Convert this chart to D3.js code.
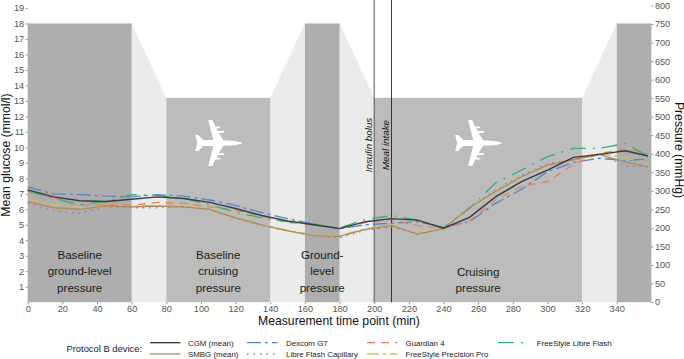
<!DOCTYPE html>
<html><head><meta charset="utf-8">
<script src="https://cdn.jsdelivr.net/npm/d3@7"></script>
<style>html,body{margin:0;padding:0;background:#fff}svg{display:block;font-family:"Liberation Sans",Arial,sans-serif}</style>
</head><body><div id="chart"></div>
<script>
const timePoints=[0,15,30,45,60,75,90,105,120,135,150,165,180,195,210,225,240,255,270,285,300,315,330,345,358];
const cgm      =[7.25,6.8,6.55,6.5,6.65,6.8,6.7,6.45,6.05,5.6,5.25,5.0,4.75,5.2,5.4,5.3,4.78,5.48,6.8,7.78,8.53,9.35,9.55,9.78,9.44];
const smbg     =[6.5,6.1,6.0,6.2,6.15,6.2,6.15,6.0,5.45,5.0,4.6,4.3,4.25,4.7,4.95,4.4,4.75,6.1,7.15,8.1,8.85,9.2,9.55,9.05,8.75];
const dexcom   =[7.45,7.0,6.95,6.85,6.8,6.95,6.85,6.6,6.25,5.78,5.4,5.05,4.75,5.0,5.1,5.2,4.85,5.2,6.38,7.29,8.43,9.03,9.3,9.13,9.27];
const libreCap =[6.4,5.9,5.75,6.15,6.1,6.1,6.15,6.0,5.4,4.95,4.6,4.3,4.15,4.65,4.85,4.4,4.75,6.15,7.25,8.2,8.96,9.2,9.6,8.8,8.75];
const guardian =[7.15,6.75,6.25,6.3,6.25,6.45,6.4,6.15,5.95,5.55,5.15,5.0,4.75,5.15,5.35,4.95,4.75,5.25,6.6,7.5,7.78,8.9,9.6,9.9,9.6];
const precision=[6.65,6.3,6.1,6.15,6.2,6.25,6.2,6.05,5.5,5.0,4.65,4.35,4.3,4.75,5.0,4.45,4.8,6.17,7.2,8.15,8.86,9.22,9.6,9.35,8.85];
const libreFlash=[7.2,6.7,6.3,6.5,6.95,6.9,6.7,6.3,5.8,5.45,5.2,5.05,4.8,5.35,5.6,5.3,4.8,6.07,7.7,8.53,9.4,9.93,9.93,10.25,9.44];

const seriesNames=["CGM (mean)","SMBG (mean)","Dexcom G7","Libre Flash Capillary","Guardian 4","FreeStyle Precision Pro","FreeStyle Libre Flash"];
const seriesValues=[cgm,smbg,dexcom,libreCap,guardian,precision,libreFlash];
const seriesColors=["#3a3a3a","#b08a58","#4f86d6","#9a6fc0","#ee7f4f","#e0bd4a","#2fb573"];
const seriesDash=["","","14 4 3 4","1.5 5","8 6","12 4 3 4","16 7 2 7"];
const drawOrder=[2,3,4,5,6,1,0];

const glucoseTicks=d3.range(1,20);
const xTicks=d3.range(0,341,20);
const pressureTicks=d3.range(0,801,50);
const plateaus=[[0,60,18,"#aeaeae"],[80,140,13.2,"#bcbcbc"],[160,180,18,"#aeaeae"],[200,320,13.2,"#bcbcbc"],[340,360,18,"#aeaeae"]];
const ramps=[[60,80,18,13.2],[140,160,13.2,18],[180,200,18,13.2],[320,340,13.2,18]];
const phaseLabels=[[30,["Baseline","ground-level","pressure"]],[110,["Baseline","cruising","pressure"]],[170,["Ground-","level","pressure"]],[260,["Cruising","pressure"]]];
const planeAt=[110,260];
const events=[[200,"Insulin bolus"],[210,"Meal intake"]];

const W=684,H=359;
const svg=d3.select("#chart").append("svg").attr("width",W).attr("height",H);
const x=d3.scaleLinear().domain([0,360]).range([27.7,651.4]);
const y=d3.scaleLinear().domain([0,19]).range([302.2,8]);
const yP=d3.scaleLinear().domain([0,800]).range([302,5.5]);

svg.append("g").selectAll("path").data(ramps).join("path")
  .attr("d",d=>d3.line()([[x(d[0]),y(0)],[x(d[0]),y(d[2])],[x(d[1]),y(d[3])],[x(d[1]),y(0)]])+"Z")
  .attr("fill","#ebebeb");
svg.append("g").selectAll("rect").data(plateaus).join("rect")
  .attr("x",d=>x(d[0])).attr("width",d=>x(d[1])-x(d[0]))
  .attr("y",d=>y(d[2])).attr("height",d=>y(0)-y(d[2])).attr("fill",d=>d[3]);

const planePath="M24,0C22,-1.4 18,-2.2 9,-2.6L5,-2.8L0.5,-10L6,-10.5L6,-12L-0.5,-12L-2,-14.5L2,-15L2,-16.5L-3,-16.5L-6,-23L-10,-23L-5,-3L-15,-3L-20,-8L-23,-8L-21,0L-23,8L-20,8L-15,3L-5,3L-10,23L-6,23L-3,16.5L2,16.5L2,15L-2,14.5L-0.5,12L6,12L6,10.5L0.5,10L5,2.8L9,2.6C18,2.2 22,1.4 24,0Z";
svg.append("g").selectAll("path").data(planeAt).join("path")
  .attr("d",planePath).attr("fill","#fff")
  .attr("transform",d=>`translate(${x(d)},143)`);

events.forEach((e,i)=>{
  svg.append("line").attr("x1",x(e[0])).attr("x2",x(e[0])).attr("y1",0).attr("y2",y(0))
    .attr("stroke",i?"#222":"#444").attr("stroke-width",.9);
  svg.append("text").attr("transform",`translate(${x(e[0])-2.5},145) rotate(-90)`)
    .attr("text-anchor","middle").attr("font-size",9.8).attr("font-style","italic").attr("fill","#111").text(e[1]);
});

const line=d3.line().x((d,i)=>x(timePoints[i])).y(d=>y(d)).curve(d3.curveLinear);
svg.append("g").selectAll("path").data(drawOrder).join("path")
  .attr("d",k=>line(seriesValues[k])).attr("fill","none")
  .attr("stroke",k=>seriesColors[k]).attr("stroke-width",k=>k===0?1.4:1.3)
  .attr("stroke-dasharray",k=>seriesDash[k]);

const labels=svg.append("g").attr("font-size",11.6).attr("fill","#1a1a1a").attr("text-anchor","middle");
phaseLabels.forEach(p=>{
  const start=p[1].length===3?254.5:271.5;
  p[1].forEach((t,i)=>labels.append("text").attr("x",x(p[0])).attr("y",start+i*16.7+4).text(t));
});

function styleAxis(g){
  g.select(".domain").remove();
  g.selectAll("line").attr("stroke","#444").attr("stroke-width",.6);
  g.selectAll("text").attr("fill","#555").attr("font-size",9.2).attr("font-family","Liberation Sans, Arial, sans-serif");
}
svg.append("g").attr("transform",`translate(${x(0)},0)`)
  .call(d3.axisLeft(y).tickValues(glucoseTicks).tickSize(2).tickPadding(1.5)).call(styleAxis);
svg.append("g").attr("transform",`translate(${x(360)},0)`)
  .call(d3.axisRight(yP).tickValues(pressureTicks).tickSize(2).tickPadding(1.5)).call(styleAxis);
svg.append("g").attr("transform",`translate(0,${y(0)})`)
  .call(d3.axisBottom(x).tickValues(xTicks).tickSize(2).tickPadding(1.5)).call(styleAxis);

svg.append("text").attr("x",339).attr("y",325).attr("text-anchor","middle").attr("font-size",12.2).attr("fill","#111").text("Measurement time point (min)");
svg.append("text").attr("transform","translate(10,155) rotate(-90)").attr("text-anchor","middle").attr("font-size",12.2).attr("fill","#111").text("Mean glucose (mmol/l)");
svg.append("text").attr("transform","translate(674.5,150) rotate(90)").attr("text-anchor","middle").attr("font-size",12.2).attr("fill","#111").text("Pressure (mmHg)");

svg.append("text").attr("x",142).attr("y",351.5).attr("text-anchor","end").attr("font-size",9.4).attr("fill","#222").text("Protocol B device:");
const legendCols=[150,247,367,498];
const legendRows=[342.7,354];
const legendText=[38,39,38.5,38.7];
const legendPlace=[[0,0],[0,1],[1,0],[1,1],[2,0],[2,1],[3,0]];
const lg=svg.append("g");
legendPlace.forEach((p,k)=>{
  const cx=legendCols[p[0]],cy=legendRows[p[1]];
  lg.append("line").attr("x1",cx).attr("x2",cx+30.5).attr("y1",cy).attr("y2",cy)
    .attr("stroke",seriesColors[k]).attr("stroke-width",1.3).attr("stroke-dasharray",seriesDash[k]);
  lg.append("text").attr("x",cx+legendText[p[0]]).attr("y",cy+2.9).attr("font-size",7.9).attr("fill","#222").text(seriesNames[k]);
});
</script></body></html>
